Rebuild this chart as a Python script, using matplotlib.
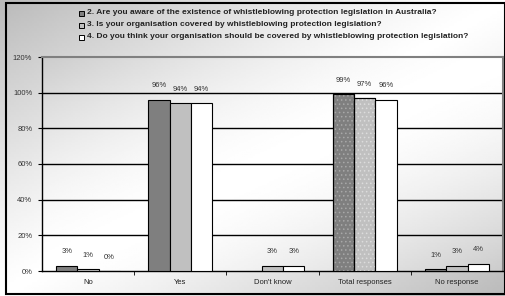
import numpy as np
import matplotlib.pyplot as plt
from matplotlib.patches import Rectangle

plt.rcParams['font.family'] = ['Liberation Sans', 'DejaVu Sans']
plt.rcParams['hatch.linewidth'] = 0.6

categories = ["No", "Yes", "Don't know", "Total responses", "No response"]
q2_aware = [3, 96, np.nan, 99, 1]
q3_covered = [1, 94, 3, 97, 3]
q4_should = [0, 94, 3, 96, 4]
series_names = [
    "2. Are you aware of the existence of whistleblowing protection legislation in Australia?",
    "3. Is your organisation covered by whistleblowing protection legislation?",
    "4. Do you think your organisation should be covered by whistleblowing protection legislation?",
]
yticks = [0, 20, 40, 60, 80, 100, 120]

colors = ["#7f7f7f", "#c0c0c0", "#ffffff"]
dots = ["#a8a8a8", "#dcdcdc", None]

W, H = 506, 296
fig = plt.figure(figsize=(W / 100, H / 100), dpi=100)

# gradient: grey in top-left and bottom-right corners, white along the other diagonal
gx, gy = np.meshgrid(np.linspace(0, 1, 200), np.linspace(0, 1, 120))
band = np.abs(gx + gy - 1)

bg = fig.add_axes([0, 0, 1, 1], zorder=-10)
bg.imshow(1 - 0.27 * band ** 1.2, cmap="gray", vmin=0, vmax=1,
          aspect="auto", extent=[0, 1, 0, 1], origin="upper")
bg.add_patch(Rectangle((6 / W, 2 / H), 499 / W, 291 / H, fill=False,
                       edgecolor="black", linewidth=1.5))
bg.set_xlim(0, 1)
bg.set_ylim(0, 1)
bg.axis("off")

ax = fig.add_axes([42 / W, 25 / H, 461 / W, 214 / H])
ax.imshow(1 - 0.2 * band ** 1.6, cmap="gray", vmin=0, vmax=1,
          aspect="auto", extent=[-0.5, 4.5, 0, 120], origin="upper", zorder=0)

x = np.arange(len(categories))
w = 0.23
for i, vals in enumerate([q2_aware, q3_covered, q4_should]):
    pos = x + (i - 1) * w
    ax.bar(pos, vals, w, color=colors[i], edgecolor="black", linewidth=0.8, zorder=3)
    if dots[i]:
        ax.bar(pos[3], vals[3], w, facecolor="none", edgecolor=dots[i],
               hatch="....", linewidth=0, zorder=4)
        ax.bar(pos[3], vals[3], w, facecolor="none", edgecolor="black",
               linewidth=0.8, zorder=5)
    for p, v in zip(pos, vals):
        if np.isnan(v):
            continue
        ax.annotate(f"{v:.0f}%", (p, v), xytext=(0, 10), textcoords="offset points",
                    ha="center", va="center", fontsize=5.5, color="#333333")

ax.set_xlim(-0.5, 4.5)
ax.set_ylim(0, 120)
for y in yticks[1:-1]:
    ax.axhline(y, color="black", linewidth=1, zorder=2)
ax.set_yticks(yticks)
ax.set_yticklabels([f"{t}%" for t in yticks], fontsize=5.5, color="#333333")
ax.set_xticks(x)
ax.set_xticklabels(categories, fontsize=5.5, color="#222222")
ax.set_xticks(np.arange(0.5, 4.5, 1), minor=True)
ax.tick_params(axis="x", which="major", length=0, pad=6)
ax.tick_params(axis="x", which="minor", length=3, direction="out")
ax.tick_params(axis="y", length=3, direction="out", pad=4)
for s in ["left", "bottom"]:
    ax.spines[s].set_color("black")
    ax.spines[s].set_linewidth(1)
for s in ["top", "right"]:
    ax.spines[s].set_color("#808080")
    ax.spines[s].set_linewidth(1.5)

# legend drawn as text lines with small squares
for i, name in enumerate(series_names):
    yy = 1 - (13 + 12 * i) / H
    bg.add_patch(Rectangle((79 / W, yy - 2.5 / H), 5 / W, 5 / H, facecolor=colors[i],
                           edgecolor="black", linewidth=0.7))
    fig.text(87 / W, yy, name, fontsize=6, fontweight="bold", color="#222222",
             va="center", ha="left")

fig.savefig("out.png", dpi=100)
